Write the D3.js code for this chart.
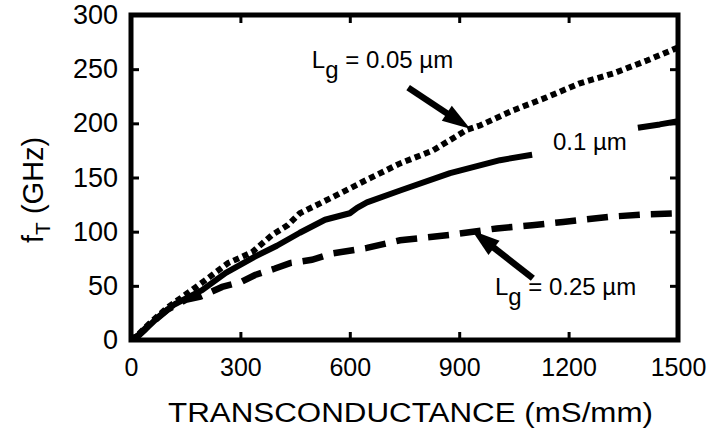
<!DOCTYPE html>
<html><head><meta charset="utf-8">
<script src="https://cdn.jsdelivr.net/npm/d3@7"></script>
<style>body{margin:0;background:#fff}svg{display:block}text{font-family:"Liberation Sans",Arial,sans-serif;fill:#000}</style>
</head><body>
<svg id="c" width="709" height="430"></svg>
<script>
// ---- data ----
const xTicks = [0, 300, 600, 900, 1200, 1500];
const yTicks = [0, 50, 100, 150, 200, 250, 300];

const gm005 = [0, 20, 50, 100, 150, 203, 266, 332, 387, 430, 463, 554, 647, 738, 828, 921, 957, 1048, 1140, 1231, 1322, 1415, 1500];
const ft005 = [0, 5, 15, 30, 42, 55, 71, 81, 97, 106, 117, 132, 148, 163, 175, 194, 198, 212, 224, 237, 246, 258, 270];

const gm01 = [0, 20, 40, 74, 120, 195, 260, 340, 400, 463, 532, 600, 620, 647, 738, 875, 1012, 1100, 1250, 1390, 1450, 1500];
const ft01 = [0, 4, 10, 21, 33, 46, 62, 77, 87, 99, 111, 117, 122, 127, 138, 154, 166, 171, null, 196, 199, 202];

const gm025 = [0, 20, 50, 100, 150, 190, 250, 305, 340, 395, 436, 496, 554, 647, 738, 875, 1003, 1100, 1185, 1322, 1415, 1500];
const ft025 = [0, 4, 14, 28, 37, 40, 49, 54, 60, 66, 71, 74, 80, 85, 92, 97, 103, 106, 109, 114, 116, 117];

// ---- chart ----
const svg = d3.select("#c");
const L = 131, T = 15, R = 678, B = 340;
const x = d3.scaleLinear().domain([0, 1500]).range([L, R]);
const y = d3.scaleLinear().domain([0, 300]).range([B, T]);

const zip = (a, b) => a.map((v, i) => ({x: v, y: b[i]}));
const line = d3.line().defined(d => d.y !== null).x(d => x(d.x)).y(d => y(d.y));

svg.append("clipPath").attr("id", "pc").append("rect")
  .attr("x", L).attr("y", T).attr("width", R - L).attr("height", B - T);

const plot = svg.append("g").attr("clip-path", "url(#pc)");
plot.append("path").datum(zip(gm025, ft025)).attr("d", line)
  .attr("fill", "none").attr("stroke", "#000").attr("stroke-width", 6.5)
  .attr("stroke-dasharray", "21,11");
plot.append("path").datum(zip(gm005, ft005)).attr("d", line)
  .attr("fill", "none").attr("stroke", "#000").attr("stroke-width", 6)
  .attr("stroke-dasharray", "6,4");
plot.append("path").datum(zip(gm01, ft01)).attr("d", line)
  .attr("fill", "none").attr("stroke", "#000").attr("stroke-width", 6)
  .attr("stroke-linejoin", "round");

// axes (ticks inward)
const tl = 8;
const axB = d3.axisBottom(x).tickValues(xTicks).tickSize(-tl).tickPadding(22).tickFormat(d3.format("d"));
const axT = d3.axisTop(x).tickValues(xTicks).tickSize(-tl).tickFormat("");
const axL = d3.axisLeft(y).tickValues(yTicks).tickSize(-tl).tickPadding(13).tickFormat(d3.format("d"));
const axR = d3.axisRight(y).tickValues(yTicks).tickSize(-tl).tickFormat("");

function style(fs) {
  return g => {
    g.select(".domain").remove();
    g.selectAll(".tick line").attr("stroke", "#000").attr("stroke-width", 3);
    g.selectAll(".tick text").attr("font-size", fs).attr("font-family", "Liberation Sans, Arial, sans-serif").attr("fill", "#000");
  };
}
svg.append("g").attr("transform", `translate(0,${B})`).call(axB).call(style(25))
  .selectAll(".tick text").attr("dy", "0.55em");
svg.append("g").attr("transform", `translate(0,${T})`).call(axT).call(style(25));
svg.append("g").attr("transform", `translate(${L},0)`).call(axL).call(style(27));
svg.append("g").attr("transform", `translate(${R},0)`).call(axR).call(style(25));

// frame
svg.append("rect").attr("x", L).attr("y", T).attr("width", R - L).attr("height", B - T)
  .attr("fill", "none").attr("stroke", "#000").attr("stroke-width", 5);

// axis titles
svg.append("text").attr("x", 168).attr("y", 422).attr("font-size", 27)
  .attr("textLength", 485).attr("lengthAdjust", "spacingAndGlyphs")
  .text("TRANSCONDUCTANCE (mS/mm)");
const yt = svg.append("text").attr("transform", `translate(43,243) rotate(-90)`)
  .attr("font-size", 29);
yt.append("tspan").text("f");
yt.append("tspan").attr("font-size", 21).attr("dy", 7).text("T");
yt.append("tspan").attr("dy", -7).text(" (GHz)");

// annotations
function label(xv, yv, parts) {
  const t = svg.append("text").attr("x", x(xv)).attr("y", y(yv)).attr("font-size", 24);
  parts.forEach(p => {
    const s = t.append("tspan").text(p.t);
    if (p.sub) s.attr("dy", 10);
    if (p.up) s.attr("dy", -10);
  });
}
label(496, 251, [{t: "L"}, {t: "g", sub: true}, {t: " = 0.05 µm", up: true}]);
label(1157, 175, [{t: "0.1 µm"}]);
label(998, 41.5, [{t: "L"}, {t: "g", sub: true}, {t: " = 0.25 µm", up: true}]);

function arrow(x0, y0, x1, y1) {
  const X0 = x(x0), Y0 = y(y0), X1 = x(x1), Y1 = y(y1);
  const dx = X1 - X0, dy = Y1 - Y0, len = Math.hypot(dx, dy);
  const ux = dx / len, uy = dy / len, hl = 28, hw = 9;
  const bx = X1 - ux * hl, by = Y1 - uy * hl;
  svg.append("line").attr("x1", X0).attr("y1", Y0).attr("x2", bx + ux * 2).attr("y2", by + uy * 2)
    .attr("stroke", "#000").attr("stroke-width", 6.5);
  svg.append("path").attr("d", `M${X1},${Y1}L${bx - uy * hw},${by + ux * hw}L${bx + uy * hw},${by - ux * hw}Z`)
    .attr("fill", "#000");
}
arrow(760, 233, 930, 195);
arrow(1102, 57, 935, 101);
</script>
</body></html>
